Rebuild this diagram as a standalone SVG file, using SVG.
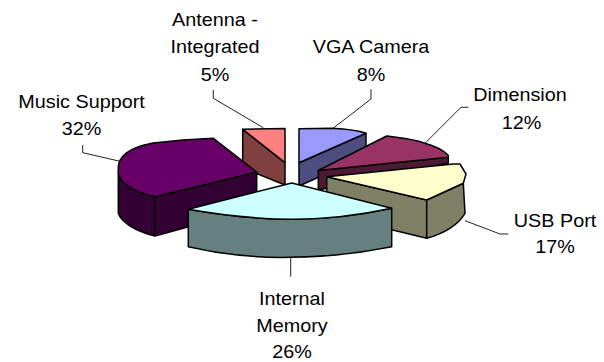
<svg xmlns="http://www.w3.org/2000/svg" width="604" height="362" viewBox="0 0 604 362">
<style>
.e{stroke:#000;stroke-width:1.5;stroke-linejoin:round}
.t{font-family:"Liberation Sans",Arial,sans-serif;font-size:18px;fill:#000;text-anchor:middle}
.l{fill:none;stroke:#222;stroke-width:1}
</style>
<rect width="604" height="362" fill="#fff"/>
<g id="antenna">
<path class="e" fill="#804040" d="M242.7,129.3 L285,162.7 L285,185 L242.7,168 Z"/>
<path class="e" fill="#FF8080" d="M242.7,129.3 L285,128.5 L285,162.7 Z"/>
<g transform="translate(215,0) scale(1.1,1)"><text class="t" x="0" y="26">Antenna -</text><text class="t" x="0" y="53.5">Integrated</text><text class="t" x="0" y="81">5%</text></g>
</g>
<g id="vga">
<path class="e" fill="#4D4D80" d="M299,162.7 L366,133.3 L366,156 L299,186 Z"/>
<path class="e" fill="#9999FF" d="M299,162.7 L299,128.7 L331.7,128.3 C345,129 357,130 366,133.3 Z"/>
<g transform="translate(371,0) scale(1.1,1)"><text class="t" x="0" y="52.7">VGA Camera</text><text class="t" x="0" y="81">8%</text></g>
</g>
<g id="dimension">
<path class="e" fill="#4D1A33" d="M318.3,170.5 L448.3,157.3 L448.3,163.3 L318.3,190 Z"/>
<path class="e" fill="#993366" d="M318.3,170.5 L386.7,136 C400,138 413,139 423.3,142.7 C435,146 444,150 448.3,155.5 L448.3,157.3 Z"/>
<g transform="translate(520,0) scale(1.1,1)"><text class="t" x="0" y="100.7">Dimension</text><text class="t" x="1.5" y="129.3">12%</text></g>
</g>
<g id="usb">
<path class="e" fill="#808066" d="M326.7,176.7 L426.7,200 L426.7,238.3 L326.7,214 Z"/>
<path class="e" fill="#808066" d="M426.7,200 L463.3,183.3 L465,213.3 C458,225 445,233 426.7,238.3 Z"/>
<path class="e" fill="#FFFFCC" d="M326.7,176.7 L453.3,164 L460,164 L466,174 L463.3,183.3 L426.7,200 Z"/>
<g transform="translate(555,0) scale(1.1,1)"><text class="t" x="0" y="227.3">USB Port</text><text class="t" x="0" y="253.3">17%</text></g>
</g>
<g id="music">
<path class="e" fill="#330033" d="M118.3,172 L118.3,213 C121,222 135,231 155,236 L256.7,208 L256.7,172 L155,196.7 C143,194 133,190 127,185 C121,181 118.3,177 118.3,172 Z"/>
<path class="e" fill="#660066" d="M118.3,172 L118.3,166 C119,158 125,153 133,149 C140,146 147,144 153,143 L183,140 L213.3,138.3 L256.7,172 L155,196.7 C143,194 133,190 127,185 C121,181 118.3,177 118.3,172 Z"/>
<path class="e" fill="none" d="M155,196.7 L155,236"/>
<g transform="translate(81.5,0) scale(1.1,1)"><text class="t" x="0" y="108.3">Music Support</text><text class="t" x="0" y="135">32%</text></g>
</g>
<g id="memory">
<path class="e" fill="#668080" d="M188.3,209.3 L188.3,246.7 C220,254 255,258 290,257.3 C330,257 365,252 391.7,246.7 L391.7,208.3 C365,214 330,219.5 291.7,219.3 C250,219 215,214 188.3,209.3 Z"/>
<path class="e" fill="#CCFFFF" d="M188.3,209.3 L291.7,183 L391.7,208.3 C365,214 330,219.5 291.7,219.3 C250,219 215,214 188.3,209.3 Z"/>
<g transform="translate(292,0) scale(1.1,1)"><text class="t" x="0" y="305">Internal</text><text class="t" x="0" y="331.7">Memory</text><text class="t" x="0" y="358.3">26%</text></g>
</g>
<g id="connectors">
<polyline class="l" points="213.3,90 213.3,98.3 263.3,127.7"/>
<polyline class="l" points="82.7,145 82.7,152.7 121.7,161.7"/>
<polyline class="l" points="371,89.3 371,99 331.7,129.3"/>
<polyline class="l" points="468.3,107.3 461,107.3 425,143.3"/>
<polyline class="l" points="508.3,234 500,234 465,220.7"/>
<polyline class="l" points="290.7,258 290.7,276.7"/>
</g>
</svg>
